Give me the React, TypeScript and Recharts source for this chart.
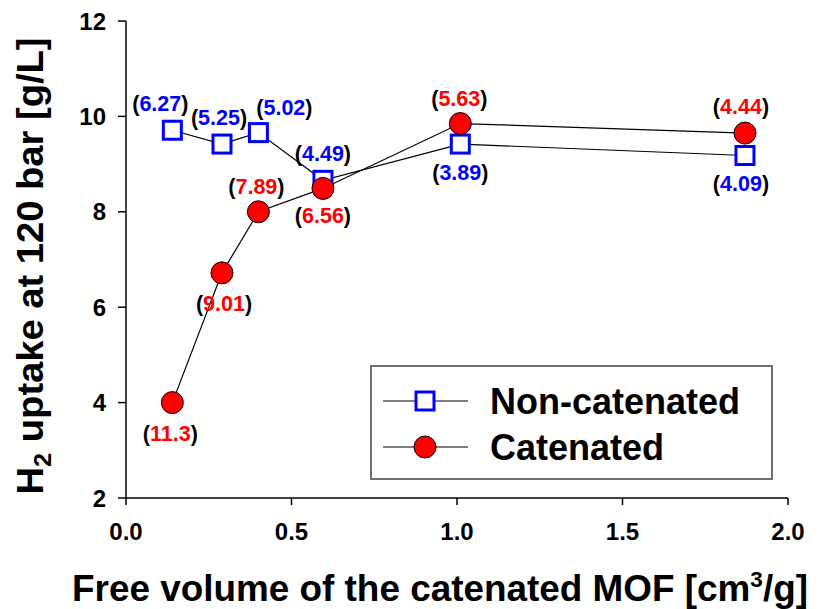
import React from 'react';
import { ScatterChart, Scatter, XAxis, YAxis } from 'recharts';

// free volume of the catenated MOF [cm3/g]
const freeVolume = [0.14, 0.29, 0.4, 0.595, 1.01, 1.87];

// H2 uptake at 120 bar [g/L]
const nonCatUptake = [9.71, 9.42, 9.66, 8.66, 9.42, 9.18];
const catUptake = [4.0, 6.72, 8.0, 8.49, 9.85, 9.65];

// numbers printed next to each point
const nonCatNotes = ['6.27', '5.25', '5.02', '4.49', '3.89', '4.09'];
const catNotes = ['11.3', '9.01', '7.89', '6.56', '5.63', '4.44'];

const xTicks = [0, 0.5, 1, 1.5, 2];
const yTicks = [2, 4, 6, 8, 10, 12];

// where each note sits relative to its marker (dx, dy)
const nonCatNoteOffset = [[-12, -27], [-3, -27], [26, -25], [0, -27], [0, 28], [-4, 28]];
const catNoteOffset = [[-2, 31], [2, 30], [-2, -26], [0, 27], [-1, -25], [-4, -27]];

const FONT = '"Liberation Sans", Arial, sans-serif';

const nonCatData = freeVolume.map((x, i) => ({ x, y: nonCatUptake[i], note: nonCatNotes[i], i }));
const catData = freeVolume.map((x, i) => ({ x, y: catUptake[i], note: catNotes[i], i }));

const Note = ({ x, y, value, color }: { x: number; y: number; value: string; color: string }) => (
  <text x={x} y={y} dy="0.36em" textAnchor="middle" fontSize={21.5} fontWeight="bold" fontFamily={FONT} fill="#000">
    (<tspan fill={color}>{value}</tspan>)
  </text>
);

const SquareShape = (props: any) => {
  const { cx, cy, payload } = props;
  const [dx, dy] = nonCatNoteOffset[payload.i];
  return (
    <g>
      <rect x={cx - 9} y={cy - 9} width={18} height={18} fill="#fff" stroke="#0000ff" strokeWidth={3} />
      <Note x={cx + dx} y={cy + dy} value={payload.note} color="#0000ff" />
    </g>
  );
};

const CircleShape = (props: any) => {
  const { cx, cy, payload } = props;
  const [dx, dy] = catNoteOffset[payload.i];
  return (
    <g>
      <circle cx={cx} cy={cy} r={11} fill="#ff0000" stroke="#000" strokeWidth={1} />
      <Note x={cx + dx} y={cy + dy} value={payload.note} color="#ff0000" />
    </g>
  );
};

function XTick(p: any) {
  return (
    <text x={p.x} y={p.y} dy="0.72em" textAnchor="middle" fontSize={24} fontWeight="bold"
      fontFamily={FONT} fill="#000">
      {Number(p.payload.value).toFixed(1)}
    </text>
  );
}

function YTick(p: any) {
  return (
    <text x={p.x} y={p.y} dy="0.36em" textAnchor="end" fontSize={24} fontWeight="bold"
      fontFamily={FONT} fill="#000">
      {p.payload.value}
    </text>
  );
}

const XTitle = () => (
  <text x={440} y={601} textAnchor="middle" fontSize={36} fontWeight="bold" fontFamily={FONT} fill="#000"
    textLength={736} lengthAdjust="spacingAndGlyphs">
    Free volume of the catenated MOF [cm<tspan dy={-14} fontSize={22}>3</tspan><tspan dy={14}>/g]</tspan>
  </text>
);

const YTitle = () => (
  <text x={43} y={266} transform="rotate(-90, 43, 266)" textAnchor="middle" fontSize={36} fontWeight="bold"
    fontFamily={FONT} fill="#000" textLength={457} lengthAdjust="spacingAndGlyphs">
    H<tspan dy={8} fontSize={24}>2</tspan><tspan dy={-8}> uptake at 120 bar [g/L]</tspan>
  </text>
);

const LegendBox = () => (
  <svg width={403} height={115} style={{ position: 'absolute', left: 370, top: 365 }}>
    <rect x={1} y={1} width={401} height={113} fill="#fff" stroke="#707070" strokeWidth={2} />
    <line x1={13} x2={98} y1={36} y2={36} stroke="#000" strokeWidth={1.2} />
    <rect x={46} y={27} width={18} height={18} fill="#fff" stroke="#0000ff" strokeWidth={3} />
    <text x={120} y={49} fontSize={36} fontWeight="bold" fontFamily={FONT} fill="#000">Non-catenated</text>
    <line x1={13} x2={98} y1={82} y2={82} stroke="#000" strokeWidth={1.2} />
    <circle cx={55} cy={82} r={11} fill="#ff0000" stroke="#000" strokeWidth={1} />
    <text x={120} y={95} fontSize={36} fontWeight="bold" fontFamily={FONT} fill="#000">Catenated</text>
  </svg>
);

export default function App() {
  const axisStyle = { stroke: '#000', strokeWidth: 1.5 };
  return (
    <div style={{ position: 'absolute', left: 0, top: 0, width: 819, height: 609, background: '#fff', fontFamily: FONT }}>
      <ScatterChart width={819} height={609} margin={{ top: 21, right: 31, bottom: 0, left: 0 }}>
        <XAxis dataKey="x" type="number" domain={[0, 2]} ticks={xTicks} allowDataOverflow
          height={111} tickSize={7} tickMargin={18}
          axisLine={axisStyle} tickLine={axisStyle} tick={XTick}
          label={<XTitle />} />
        <XAxis xAxisId="top" orientation="top" type="number" domain={[0, 2]} height={0}
          tick={false} tickLine={false} axisLine={axisStyle} />
        <YAxis dataKey="y" type="number" domain={[2, 12]} ticks={yTicks} allowDataOverflow
          width={126} tickSize={8} tickMargin={12}
          axisLine={axisStyle} tickLine={axisStyle} tick={YTick}
          label={<YTitle />} />
        <YAxis yAxisId="right" orientation="right" type="number" domain={[2, 12]} width={0}
          tick={false} tickLine={false} axisLine={axisStyle} />
        <Scatter name="Non-catenated" data={nonCatData} line={{ stroke: '#000', strokeWidth: 1.2 }}
          shape={SquareShape} isAnimationActive={false} />
        <Scatter name="Catenated" data={catData} line={{ stroke: '#000', strokeWidth: 1.2 }}
          shape={CircleShape} isAnimationActive={false} />
      </ScatterChart>
      <LegendBox />
    </div>
  );
}
